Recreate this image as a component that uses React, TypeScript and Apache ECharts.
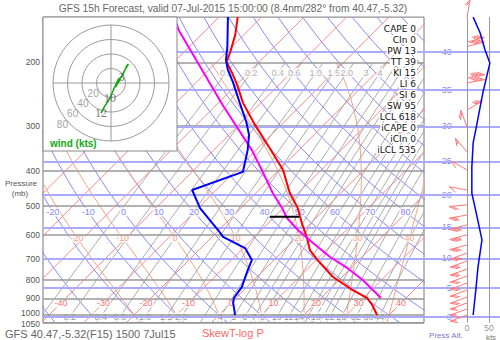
import React, { useEffect, useRef } from 'react';
import * as echarts from 'echarts';

// ---------------- texts ----------------
const titleText = 'GFS 15h Forecast, valid 07-Jul-2015 15:00:00 (8.4nm/282° from 40.47,-5.32)';
const footerText = 'GFS 40.47,-5.32(F15) 1500 7Jul15';
const diagramName = 'SkewT-log P';

// ---------------- axes / ticks ----------------
const pressureTicks = [200, 300, 400, 500, 600, 700, 800, 900, 1000, 1050];
const altitudeTicks = [0, 5, 10, 15, 20, 25, 30, 35, 40]; // kft
const altitudePressures = [1013.25, 843.1, 696.8, 571.8, 465.6, 376.0, 300.9, 238.4, 187.5];
const windTicks = [0, 50];

const isotherms = [-110, -100, -90, -80, -70, -60, -50, -40, -30, -20, -10, 0, 10, 20, 30, 40, 50];
const isothermLabels = [-40, -30, -20, -10, 0, 10, 20, 30, 40];
const dryAdiabats = [-40, -30, -20, -10, 0, 10, 20, 30, 40, 50, 60, 70, 80, 90, 100, 110, 120, 130, 140, 150, 160];
const dryAdiabatLabels = [-20, -10, 0, 10, 20, 30, 40, 50, 60, 70, 80];
const moistAdiabats = [-20, -10, 0, 10, 20, 30, 40];
const moistAdiabatLabels = [-20, -10, 0, 10, 20, 30, 40];
const mixingRatios = [0.1, 0.2, 0.4, 0.6, 1, 1.5, 2, 3, 4, 5, 6, 7, 8, 10, 12, 14, 16, 18, 20, 22, 26, 32, 38, 44];
const mixingTopLabels = ['0.1', '0.2', '0.4', '0.6', '1.0', '1.5', '2.0', '3', '4'];
const mixingBottomLabels = ['0.2', '0.4', '0.6', '1.0', '1.5', '2.0', '4', '5', '6', '7', '8', '10', '12', '14', '18', '22', '26', '32', '38', '44'];

// ---------------- sounding ----------------
const tempP = [150, 168, 187, 200, 214, 231, 259, 298, 350, 397, 460, 506, 557, 612, 661, 704, 785, 853, 897, 938, 1000];
const tempT = [-65.6, -62.0, -59.2, -57.6, -53.8, -49.8, -44.2, -36.2, -26.5, -19.0, -12.0, -6.6, -2.1, 2.6, 6.1, 10.2, 17.9, 25.6, 30.8, 33.7, 37.2];
const dewP = [150, 181, 197, 210, 228, 251, 262, 292, 318, 350, 402, 451, 506, 582, 608, 653, 704, 751, 837, 897, 926, 1000];
const dewT = [-67.9, -61.1, -58.3, -55.5, -51.2, -46.5, -44.4, -39.0, -35.2, -32.0, -28.0, -35.7, -29.6, -20.2, -17.4, -9.6, -5.2, -3.8, -1.2, -0.5, 0.5, 3.8];
const parcelP = [150, 163, 262, 350, 397, 460, 506, 539, 582, 632, 691, 741, 800, 897];
const parcelT = [-80.6, -76.4, -48.6, -31.0, -24.0, -16.0, -10.3, -6.8, -1.4, 5.2, 12.5, 19.1, 25.6, 34.1];
const lclMarkerTemps = [-11.1, -4.2];

// stability indices
const indexNames = ['CAPE', 'CIn', 'PW', 'TT', 'KI', 'LI', 'SI', 'SW', 'LCL', 'iCAPE', 'iCIn', 'iLCL'];
const indexValues = [0, 0, 13, 39, 15, 6, 6, 95, 618, 0, 0, 535];

// wind speed profile (kts)
const windP = [150, 166, 185, 201, 243, 294, 334, 390, 460, 536, 620, 737, 853, 1000];
const windKts = [14, 30, 41, 52, 36, 23, 14, 11, 11, 23, 34, 25, 20, 14];

// wind barbs
const barbP = [150, 176, 181, 221, 228, 271, 302, 354, 397, 451, 496, 529, 563, 600, 640, 674, 709, 746, 780, 816, 853, 892, 926, 962, 1000];
const barbKts = [15, 35, 40, 45, 40, 25, 20, 14, 11, 11, 18, 23, 28, 33, 30, 28, 25, 23, 22, 21, 20, 18, 16, 15, 14];
const barbDir = [10, 75, 75, 80, 80, 60, 340, 320, 300, 280, 265, 260, 255, 255, 255, 250, 250, 250, 250, 250, 250, 250, 250, 250, 250];

// hodograph (u, v kts) and its height labels
const hodoU = [-13.8, -8, -1.4, 4, 10, 14.8, 22, 24, 18, 12, 6];
const hodoV = [-41.4, -31, -20.7, -8, 5, 8.7, 24, 26, 16, 4, -6];
const hodoTagU = [14.8, -1.4, -13.8];
const hodoTagV = [8.7, -20.7, -41.4];
const hodoTags = ['3', '10', '12'];
const hodoRings = [20, 40, 60, 80];

// ---------------- diagram geometry ----------------
const SKEW = 36.9;
const skewX = (t: number, p: number) => t + SKEW * Math.log(1000 / p);

const curveP: number[] = [];
for (let p = 150; p <= 1050; p += 25) curveP.push(p);

const dryT = (th: number, p: number) => (th + 273.15) * Math.pow(p / 1000, 0.2857) - 273.15;

const gammaW = (p: number, T: number) => {
  const tc = T - 273.15;
  const es = 6.112 * Math.exp((17.67 * tc) / (tc + 243.5));
  const rs = (0.622 * es) / (p - es);
  return (287.04 * T + 2.501e6 * rs) / (1005.7 + (2.501e6 * 2.501e6 * rs * 0.622) / (287.04 * T * T)) / p;
};
const rk = (T: number, p: number, dp: number) => {
  const k1 = gammaW(p, T);
  const k2 = gammaW(p + dp, T + k1 * dp);
  return T + (dp * (k1 + k2)) / 2;
};
const moistCurve = (thw: number, pTop: number) => {
  let T = thw + 273.15;
  let p = 1000;
  const up: [number, number][] = [[p, T]];
  while (p > pTop) {
    T = rk(T, p, -5);
    p -= 5;
    if (p % 25 === 0) up.push([p, T]);
  }
  T = thw + 273.15;
  p = 1000;
  const down: [number, number][] = [];
  while (p < 1050) {
    T = rk(T, p, 5);
    p += 5;
    if (p % 25 === 0) down.push([p, T]);
  }
  return [...down.reverse(), ...up].map((d) => [skewX(d[1] - 273.15, d[0]), d[0]]);
};
const moistAt = (thw: number, pt: number) => {
  let T = thw + 273.15;
  let p = 1000;
  while (p > pt) {
    const dp = Math.max(-5, pt - p);
    T = rk(T, p, dp);
    p += dp;
  }
  return T - 273.15;
};
const tdFromW = (w: number, p: number) => {
  const e = (w * p) / (622 + w);
  const l = Math.log(e / 6.112);
  return (243.5 * l) / (17.67 - l);
};

// ---------------- layout ----------------
const G = { left: 43, top: 17.1, width: 381, height: 305.6 };
const XMIN = -41.41;
const XMAX = 48.24;
const BARB = '#f77';

function buildOption(): any {
  const series: any[] = [];
  const base = { xAxisIndex: 0, yAxisIndex: 0, silent: true, animation: false };
  const line = (data: any[], color: string, width: number, z: number, extra: any = {}) => ({
    ...base,
    type: 'line',
    data,
    symbol: 'none',
    showSymbol: false,
    clip: true,
    lineStyle: { color, width },
    z,
    ...extra,
  });

  isotherms.forEach((t) =>
    series.push(line([[skewX(t, 1050), 1050], [skewX(t, 150), 150]], '#f88', 1, 1))
  );
  dryAdiabats.forEach((th) =>
    series.push(line(curveP.map((p) => [skewX(dryT(th, p), p), p]), '#88f', 1, 1))
  );
  moistAdiabats.forEach((thw) => series.push(line(moistCurve(thw, 200), '#f9a080', 1, 1)));
  mixingRatios.forEach((w) =>
    series.push(
      line(
        curveP.filter((p) => p >= 200).map((p) => [skewX(tdFromW(w, p), p), p]),
        '#aaa',
        1,
        1
      )
    )
  );

  // isobars with labels
  series.push({
    ...base,
    type: 'line',
    data: [],
    z: 2,
    markLine: {
      silent: true,
      symbol: ['none', 'none'],
      animation: false,
      lineStyle: { color: '#999', width: 1.5, type: 'solid' },
      label: {
        show: true,
        position: 'start',
        distance: 3,
        formatter: (p: any) => String(p.value),
        color: '#555',
        fontSize: 8.5,
        fontFamily: 'Liberation Sans',
      },
      data: pressureTicks.map((p) => ({
        yAxis: p,
        label: { offset: p === 1000 ? [0, -2.5] : p === 1050 ? [0, 0.8] : [0, 0] },
      })),
    },
  });
  // altitude lines
  const altMark = {
    silent: true,
    symbol: ['none', 'none'],
    animation: false,
    lineStyle: { color: '#aaf', width: 2, type: 'solid' },
    label: { show: false },
    data: altitudePressures.map((p) => ({ yAxis: p })),
  };
  series.push({ ...base, type: 'line', data: [], z: 2, markLine: altMark });
  series.push({ type: 'line', xAxisIndex: 1, yAxisIndex: 1, data: [], z: 2, silent: true, markLine: altMark });

  // diagram labels
  const labelSeries = (data: any[], color: string, xi = 0, extra: any = {}) => ({
    type: 'scatter',
    xAxisIndex: xi,
    yAxisIndex: xi,
    data,
    symbolSize: 0,
    silent: true,
    animation: false,
    z: 4,
    label: {
      show: true,
      position: 'inside',
      formatter: (p: any) => p.value[2],
      color,
      fontSize: 9,
      fontFamily: 'Liberation Sans',
      backgroundColor: '#fff',
      padding: [0, 1],
      ...extra,
    },
  });
  series.push(labelSeries(isothermLabels.map((t) => [skewX(t, 926), 926, String(t)]), '#f44'));
  series.push(labelSeries(dryAdiabatLabels.map((th) => [skewX(dryT(th, 519), 519), 519, String(th)]), '#66f'));
  series.push(labelSeries(moistAdiabatLabels.map((th) => [skewX(moistAt(th, 612), 612), 612, String(th)]), '#f86'));
  series.push(
    labelSeries(mixingTopLabels.map((s) => [skewX(tdFromW(parseFloat(s), 214), 214), 214, s]), '#999')
  );
  series.push(
    labelSeries(mixingBottomLabels.map((s) => [skewX(tdFromW(parseFloat(s), 1012), 1012), 1012, s]), '#777')
  );

  // sounding
  series.push(line(tempP.map((p, i) => [skewX(tempT[i], p), p]), '#f00', 2, 6));
  series.push(line(parcelP.map((p, i) => [skewX(parcelT[i], p), p]), '#f0f', 2, 6));
  series.push(line(dewP.map((p, i) => [skewX(dewT[i], p), p]), '#00f', 2, 6));
  series.push(
    line(
      lclMarkerTemps.map((t) => [skewX(t, indexValues[11]), indexValues[11]]),
      '#000',
      2,
      6
    )
  );

  // wind panel
  series.push({
    type: 'line',
    xAxisIndex: 1,
    yAxisIndex: 1,
    data: [],
    z: 3,
    silent: true,
    markLine: {
      silent: true,
      symbol: ['none', 'none'],
      animation: false,
      lineStyle: { color: '#999', width: 1, type: 'solid' },
      label: { show: false },
      data: windTicks.map((k) => ({ xAxis: k })),
    },
  });
  series.push({
    type: 'line',
    xAxisIndex: 1,
    yAxisIndex: 1,
    data: windP.map((p, i) => [windKts[i], p]),
    symbol: 'none',
    lineStyle: { color: '#00f', width: 1.5 },
    z: 6,
    silent: true,
    clip: false,
  });
  series.push(
    labelSeries(altitudePressures.map((p, i) => [-30, p, String(altitudeTicks[i])]), '#66f', 1, {
      position: 'left',
      distance: 0,
      padding: [0, 2],
    })
  );
  series.push(
    labelSeries(windTicks.map((k) => [k, 1050, String(k)]), '#777', 1, {
      position: 'bottom',
      distance: 1,
      backgroundColor: 'transparent',
    })
  );
  series.push({
    type: 'custom',
    xAxisIndex: 1,
    yAxisIndex: 1,
    silent: true,
    z: 5,
    data: barbP.map((p, i) => [p, barbKts[i], barbDir[i]]),
    renderItem: (params: any, api: any) => {
      const p = api.value(0);
      const spd = api.value(1);
      const dir = (api.value(2) * Math.PI) / 180;
      const [bx, by] = api.coord([0, p]);
      const sx = Math.sin(dir);
      const sy = -Math.cos(dir);
      const L = 18;
      const tx = bx + sx * L;
      const ty = by + sy * L;
      const px = sy;
      const py = -sx;
      const children: any[] = [
        { type: 'line', shape: { x1: bx, y1: by, x2: tx, y2: ty }, style: { stroke: BARB, lineWidth: 1 } },
      ];
      let rem = Math.round(spd / 5) * 5;
      let pos = 0;
      const fx = px * 0.5 - sx * 0.87;
      const fy = py * 0.5 - sy * 0.87;
      while (rem >= 50) {
        const ax = tx - sx * pos;
        const ay = ty - sy * pos;
        children.push({
          type: 'polygon',
          shape: { points: [[ax, ay], [ax + fx * 7, ay + fy * 7], [ax - sx * 3, ay - sy * 3]] },
          style: { fill: BARB },
        });
        pos += 4;
        rem -= 50;
      }
      while (rem >= 10) {
        const ax = tx - sx * pos;
        const ay = ty - sy * pos;
        children.push({ type: 'line', shape: { x1: ax, y1: ay, x2: ax + fx * 8, y2: ay + fy * 8 }, style: { stroke: BARB, lineWidth: 1 } });
        pos += 2.5;
        rem -= 10;
      }
      if (rem >= 5) {
        const off = pos === 0 ? 2.5 : pos;
        const ax = tx - sx * off;
        const ay = ty - sy * off;
        children.push({ type: 'line', shape: { x1: ax, y1: ay, x2: ax + fx * 4, y2: ay + fy * 4 }, style: { stroke: BARB, lineWidth: 1 } });
      }
      return { type: 'group', children };
    },
  });

  // hodograph
  series.push({
    type: 'line',
    xAxisIndex: 2,
    yAxisIndex: 2,
    data: hodoU.map((u, i) => [u, hodoV[i]]),
    symbol: 'none',
    lineStyle: { color: '#1a1', width: 1.5 },
    z: 12,
    silent: true,
  });
  series.push({
    ...labelSeries(hodoTagU.map((u, i) => [u, hodoTagV[i], hodoTags[i]]), '#555', 2, {
      fontSize: 12,
      fontFamily: 'Liberation Serif',
      backgroundColor: 'transparent',
    }),
    z: 13,
  });
  series.push({
    ...labelSeries(hodoRings.map((r) => [-r * 0.707, -r * 0.707, String(r)]), '#888', 2, {
      position: 'left',
      distance: 1,
      fontSize: 10,
      backgroundColor: 'transparent',
    }),
    z: 12,
  });

  const txt = (text: string, x: number, y: number, size: number, color: string, align = 'left', extra: any = {}) => ({
    type: 'text',
    x,
    y,
    z: 20,
    style: {
      text,
      fill: color,
      font: `${extra.bold ? 'bold ' : ''}${size}px "${extra.family || 'Liberation Sans'}"`,
      align,
      textAlign: align,
      verticalAlign: 'middle',
      textVerticalAlign: 'middle',
      backgroundColor: extra.bg,
      padding: extra.bg ? [0, 1] : undefined,
    },
  });

  const graphic: any[] = [
    { type: 'rect', shape: { x: 43, y: 17, width: 134, height: 134 }, style: { fill: '#fff', stroke: '#888', lineWidth: 1 }, z: 8 },
    txt(titleText, 233, 8, 10.2, '#666', 'center'),
    txt(footerText, 5, 334, 11, '#666'),
    txt(diagramName, 202, 333, 11, '#f66'),
    txt('Pressure', 21, 183, 8, '#555', 'center'),
    txt('(mb)', 20, 193, 8, '#555', 'center'),
    txt('Press Alt.', 446, 335, 8, '#77c', 'center'),
    txt('kts', 491, 337, 8, '#777', 'center'),
    txt('wind (kts)', 50, 143, 10, '#1a1', 'left', { bold: true }),
  ];
  indexNames.forEach((n, i) =>
    graphic.push(txt(`${n} ${indexValues[i]}`, 417, 28.5 + i * 11, 9, '#111', 'right', { family: 'DejaVu Sans', bg: '#fff' }))
  );

  return {
    animation: false,
    backgroundColor: '#fff',
    grid: [
      { ...G, show: true, borderColor: '#777', borderWidth: 1, backgroundColor: '#fff' },
      { left: 424, top: G.top, width: 76, height: G.height, show: false },
      { left: 53, top: 25, width: 116, height: 116, show: false },
    ],
    xAxis: [
      { gridIndex: 0, type: 'value', min: XMIN, max: XMAX, show: false },
      { gridIndex: 1, type: 'value', min: -97.7, max: 75, show: false },
      { gridIndex: 2, type: 'value', min: -80, max: 80, show: false },
    ],
    yAxis: [
      { gridIndex: 0, type: 'log', logBase: 10, inverse: true, min: 150, max: 1050, show: false },
      { gridIndex: 1, type: 'log', logBase: 10, inverse: true, min: 150, max: 1050, show: false },
      { gridIndex: 2, type: 'value', min: -80, max: 80, show: false },
    ],
    polar: { center: [111, 83], radius: 58 },
    angleAxis: {
      type: 'value',
      min: 0,
      max: 360,
      interval: 90,
      startAngle: 90,
      z: 10,
      axisLine: { show: false },
      axisTick: { show: false },
      axisLabel: { show: false },
      splitLine: { show: true, lineStyle: { color: '#999', width: 1 } },
    },
    radiusAxis: {
      type: 'value',
      min: 0,
      max: 80,
      interval: 20,
      z: 10,
      axisLine: { show: false },
      axisTick: { show: false },
      axisLabel: { show: false },
      splitLine: { show: true, lineStyle: { color: '#999', width: 1 } },
    },
    graphic,
    series,
  };
}

export default function App() {
  const ref = useRef<HTMLDivElement>(null);
  useEffect(() => {
    const chart = echarts.init(ref.current!, null, { renderer: 'svg' });
    chart.setOption(buildOption());
    return () => chart.dispose();
  }, []);
  return (
    <div
      ref={ref}
      style={{ position: 'fixed', left: 0, top: 0, width: 500, height: 340, background: '#fff' }}
    />
  );
}
